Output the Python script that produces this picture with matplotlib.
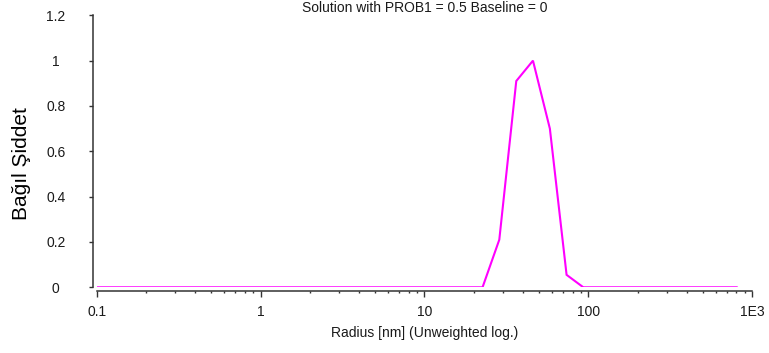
import matplotlib
matplotlib.use("Agg")
import matplotlib.pyplot as plt
from matplotlib.ticker import FixedLocator, NullFormatter

# Size distribution (radius in nm, relative intensity)
radius_nm = [0.1, 22.6, 28.6, 36.3, 45.9, 58.2, 73.6, 93.1, 803.0]
intensity = [0.0, 0.0, 0.21, 0.91, 1.0, 0.70, 0.055, 0.0, 0.0]

x_ticks = [0.1, 1, 10, 100, 1000]
x_tick_labels = ["0.1", "1", "10", "100", "1E3"]
y_ticks = [0, 0.2, 0.4, 0.6, 0.8, 1.0, 1.2]
y_tick_labels = ["0", "0.2", "0.4", "0.6", "0.8", "1", "1.2"]

title = "Solution with PROB1 = 0.5 Baseline = 0"
x_label = "Radius [nm] (Unweighted log.)"
y_label = "Bağıl Şiddet"

plt.rcParams["font.family"] = ["Liberation Sans", "DejaVu Sans"]
axis_color = "#333333"
text_color = "#1a1a1a"

W, H, DPI = 769, 353, 100
fig = plt.figure(figsize=(W / DPI, H / DPI), dpi=DPI)
fig.patch.set_facecolor("white")

# plot area in pixels: x 96.7..752.3, y 15.3..287.3 (from top)
left, right, top, bottom = 96.7, 752.3, 15.3, 287.3
ax = fig.add_axes([left / W, (H - bottom) / H, (right - left) / W, (bottom - top) / H])

ax.plot(radius_nm, intensity, color="#ff00ff", lw=1.5, solid_joinstyle="miter")

ax.set_xscale("log")
ax.set_xlim(0.1, 1000)
ax.set_ylim(0, 1.2)

ax.xaxis.set_major_locator(FixedLocator(x_ticks))
ax.set_xticklabels(x_tick_labels)
minor = [m * 10.0 ** e for e in range(-1, 3) for m in range(2, 10)]
ax.xaxis.set_minor_locator(FixedLocator(minor))
ax.xaxis.set_minor_formatter(NullFormatter())

ax.set_yticks(y_ticks)
ax.set_yticklabels(y_tick_labels)

for side in ("top", "right"):
    ax.spines[side].set_visible(False)
for side in ("left", "bottom"):
    ax.spines[side].set_color(axis_color)
    ax.spines[side].set_linewidth(1.1)
    ax.spines[side].set_position(("outward", 2.5))

ax.tick_params(axis="x", which="major", direction="out", length=4.3, width=1.0,
               color=axis_color, labelsize=10, labelcolor=text_color, pad=6)
ax.tick_params(axis="x", which="minor", direction="out", length=1.6, width=1.0,
               color=axis_color)
ax.tick_params(axis="y", which="major", direction="out", length=3.0, width=1.0,
               color=axis_color, labelsize=10, labelcolor=text_color, pad=24)
for lbl in ax.get_yticklabels():
    lbl.set_horizontalalignment("center")

# title sits just above the plot area
ax.text(0.5, (bottom - 8.5) / (bottom - top), title, transform=ax.transAxes,
        ha="center", va="center", fontsize=10, color=text_color)

ax.set_xlabel(x_label, fontsize=10, color=text_color)
ax.set_ylabel(y_label, fontsize=15, color="black")
ax.xaxis.set_label_coords(0.5, -(333.5 - bottom) / (bottom - top))
ax.yaxis.set_label_coords(-(96.7 - 22.0) / (right - left), (bottom - 164.0) / (bottom - top))
ax.xaxis.label.set_verticalalignment("center")
ax.yaxis.label.set_verticalalignment("center")

fig.savefig("out.png", dpi=DPI, facecolor="white")
